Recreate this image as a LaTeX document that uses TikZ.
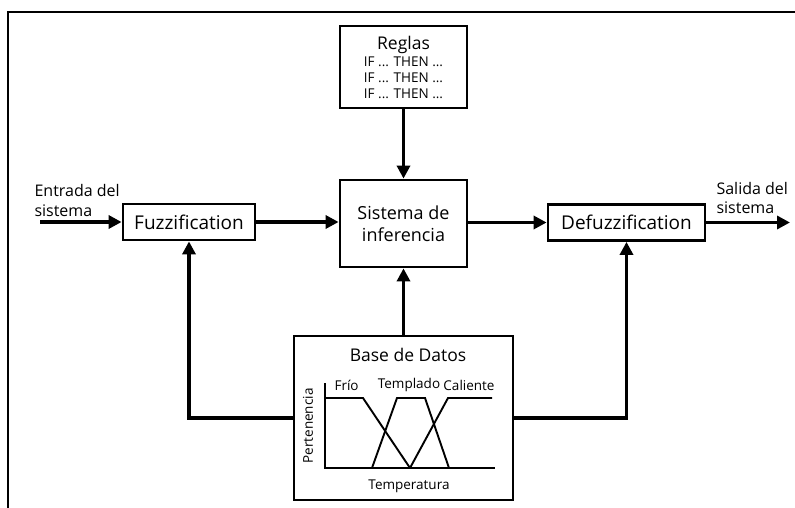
\documentclass[tikz,border=0pt]{standalone}
\usepackage{fontspec}
\setmainfont{Open Sans}
\usetikzlibrary{arrows.meta}
\tikzset{
  block/.style={draw, line width=2.8pt, inner sep=0pt, align=center},
  flow/.style={line width=3.8pt, -{Triangle[length=13pt,width=13pt]}},
  curve/.style={line width=1.9pt},
}
\begin{document}
\begin{tikzpicture}[x=1pt,y=-1pt]
      \useasboundingbox (0,0) rectangle (795,508);
      % Frame
      \draw[line width=1.4pt] (8,508) -- (8,12) -- (795,12);

      % Boxes
      \node[block, minimum width=127, minimum height=82, font=\fontsize{13.5}{16}\selectfont] (reglas) at (403.5,67)
        {{\fontsize{17.5}{20}\selectfont Reglas}\\[1pt] IF ... THEN ...\\ IF ... THEN ...\\ IF ... THEN ...};
      \node[block, minimum width=127, minimum height=87, font=\fontsize{18}{22}\selectfont] (sistema) at (403.5,223.5)
        {Sistema de\\ inferencia};
      \node[block, minimum width=132, minimum height=36, font=\fontsize{19}{22}\selectfont] (fuzz) at (189,222)
        {Fuzzification};
      \node[block, minimum width=157, minimum height=36, font=\fontsize{19}{22}\selectfont] (defuzz) at (626.5,222.5)
        {Defuzzification};
      \node[block, minimum width=219, minimum height=164] (base) at (403.5,418) {};

      % Labels
      \node[align=left, anchor=west, font=\fontsize{16}{20}\selectfont] (entrada) at (31,200)
        {Entrada del\\ sistema};
      \node[align=left, anchor=west, font=\fontsize{16}{19}\selectfont] (salida) at (713,198)
        {Salida del\\ sistema};
      \node[font=\fontsize{17.5}{20}\selectfont] (titulo) at (408,355) {Base de Datos};
      \node[font=\fontsize{13.5}{16}\selectfont, anchor=west] (frio) at (331,385) {Frío};
      \node[font=\fontsize{13.5}{16}\selectfont] (templado) at (409,385) {Templado};
      \node[font=\fontsize{13.5}{16}\selectfont] (caliente) at (469,385) {Caliente};
      \node[font=\fontsize{13.5}{16}\selectfont, rotate=90] (pertenencia) at (308,426) {Pertenencia};
      \node[font=\fontsize{13.5}{16}\selectfont] (temperatura) at (409,486) {Temperatura};

      % Plot
      \draw[curve] (325,383) -- (325,468) -- (495,468);
      \draw[curve] (325,398) -- (363,398) -- (410,468);
      \draw[curve] (372,468) -- (397,398) -- (425,398) -- (449,468);
      \draw[curve] (410,468) -- (448,398) -- (492,398);

      % Arrows
      \coordinate (in) at (40,222);
      \coordinate (out) at (790,222.5);
      \draw[flow] (in) -- (fuzz.west);
      \draw[flow] (fuzz.east) -- (fuzz.east -| sistema.west);
      \draw[flow] (sistema.east |- defuzz.west) -- (defuzz.west);
      \draw[flow] (defuzz.east) -- (out);
      \draw[flow] (reglas.south) -- (sistema.north);
      \draw[flow] (base.north) -- (sistema.south);
      \draw[flow] (base.west) -| (fuzz.south);
      \draw[flow] (base.east) -| (defuzz.south);
    \end{tikzpicture}
\end{document}
